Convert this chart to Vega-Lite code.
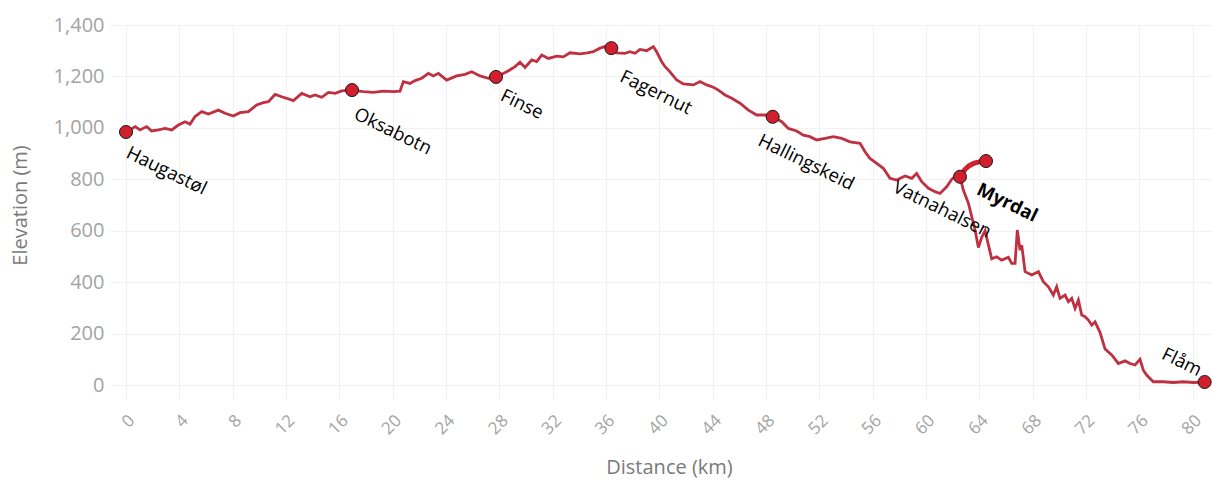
{
  "$schema": "https://vega.github.io/schema/vega-lite/v6.json",
  "width": 1102,
  "height": 375,
  "autosize": "none",
  "padding": {"left": 110, "top": 25, "right": 0, "bottom": 81},
  "background": "white",
  "config": {
    "view": {"stroke": null},
    "axis": {
      "grid": true,
      "gridColor": "#f1f1f1",
      "gridWidth": 1,
      "domain": false,
      "ticks": false,
      "labelFont": "Open Sans",
      "labelColor": "#a3a3a3",
      "titleFont": "Open Sans",
      "titleColor": "#7a7a7a",
      "titleFontWeight": "normal",
      "titleFontSize": 20
    }
  },
  "datasets": {
    "profile": [
      {"km": 0.0, "elev": 984}, {"km": 0.7, "elev": 1005}, {"km": 1.05, "elev": 992}, {"km": 1.55, "elev": 1005},
      {"km": 1.93, "elev": 988}, {"km": 2.43, "elev": 992}, {"km": 2.93, "elev": 998}, {"km": 3.43, "elev": 992},
      {"km": 3.93, "elev": 1011}, {"km": 4.43, "elev": 1024}, {"km": 4.8, "elev": 1014}, {"km": 5.18, "elev": 1044},
      {"km": 5.68, "elev": 1063}, {"km": 6.18, "elev": 1054}, {"km": 6.93, "elev": 1069}, {"km": 7.43, "elev": 1057},
      {"km": 8.05, "elev": 1046}, {"km": 8.55, "elev": 1059}, {"km": 9.18, "elev": 1063}, {"km": 9.8, "elev": 1089},
      {"km": 10.3, "elev": 1098}, {"km": 10.68, "elev": 1102}, {"km": 11.18, "elev": 1130}, {"km": 11.68, "elev": 1121},
      {"km": 12.05, "elev": 1115}, {"km": 12.55, "elev": 1106}, {"km": 13.18, "elev": 1134}, {"km": 13.8, "elev": 1121},
      {"km": 14.18, "elev": 1128}, {"km": 14.68, "elev": 1119}, {"km": 15.18, "elev": 1138}, {"km": 15.68, "elev": 1134},
      {"km": 16.18, "elev": 1144}, {"km": 16.95, "elev": 1147}, {"km": 17.8, "elev": 1141}, {"km": 18.55, "elev": 1138},
      {"km": 19.3, "elev": 1143}, {"km": 20.05, "elev": 1141}, {"km": 20.55, "elev": 1143}, {"km": 20.8, "elev": 1180},
      {"km": 21.3, "elev": 1173}, {"km": 21.68, "elev": 1184}, {"km": 22.18, "elev": 1193}, {"km": 22.68, "elev": 1212},
      {"km": 23.05, "elev": 1202}, {"km": 23.43, "elev": 1212}, {"km": 24.05, "elev": 1186}, {"km": 24.8, "elev": 1202},
      {"km": 25.43, "elev": 1208}, {"km": 25.93, "elev": 1218}, {"km": 26.55, "elev": 1202}, {"km": 27.18, "elev": 1193},
      {"km": 27.75, "elev": 1198}, {"km": 28.55, "elev": 1218}, {"km": 29.18, "elev": 1238}, {"km": 29.55, "elev": 1255},
      {"km": 29.93, "elev": 1235}, {"km": 30.43, "elev": 1264}, {"km": 30.8, "elev": 1258}, {"km": 31.18, "elev": 1283},
      {"km": 31.68, "elev": 1270}, {"km": 32.3, "elev": 1279}, {"km": 32.8, "elev": 1276}, {"km": 33.3, "elev": 1292},
      {"km": 34.05, "elev": 1288}, {"km": 34.6, "elev": 1292}, {"km": 35.05, "elev": 1296}, {"km": 35.55, "elev": 1310},
      {"km": 36.05, "elev": 1318}, {"km": 36.4, "elev": 1310}, {"km": 36.8, "elev": 1292}, {"km": 37.43, "elev": 1290},
      {"km": 37.8, "elev": 1296}, {"km": 38.18, "elev": 1290}, {"km": 38.55, "elev": 1305}, {"km": 39.05, "elev": 1300},
      {"km": 39.55, "elev": 1316}, {"km": 39.8, "elev": 1296}, {"km": 40.18, "elev": 1257}, {"km": 40.43, "elev": 1238},
      {"km": 40.8, "elev": 1218}, {"km": 41.3, "elev": 1186}, {"km": 41.8, "elev": 1171}, {"km": 42.55, "elev": 1167},
      {"km": 43.05, "elev": 1180}, {"km": 43.55, "elev": 1167}, {"km": 44.05, "elev": 1158}, {"km": 44.43, "elev": 1147},
      {"km": 44.93, "elev": 1128}, {"km": 45.43, "elev": 1115}, {"km": 46.05, "elev": 1096}, {"km": 46.68, "elev": 1069},
      {"km": 47.3, "elev": 1050}, {"km": 47.93, "elev": 1050}, {"km": 48.5, "elev": 1043}, {"km": 49.18, "elev": 1024},
      {"km": 49.68, "elev": 998}, {"km": 50.3, "elev": 988}, {"km": 50.8, "elev": 972}, {"km": 51.3, "elev": 966},
      {"km": 51.8, "elev": 953}, {"km": 52.43, "elev": 959}, {"km": 53.05, "elev": 966}, {"km": 53.68, "elev": 959},
      {"km": 54.3, "elev": 946}, {"km": 55.05, "elev": 940}, {"km": 55.43, "elev": 907}, {"km": 55.8, "elev": 881},
      {"km": 56.3, "elev": 862}, {"km": 56.8, "elev": 843}, {"km": 57.3, "elev": 804}, {"km": 57.8, "elev": 797},
      {"km": 58.43, "elev": 813}, {"km": 58.93, "elev": 804}, {"km": 59.3, "elev": 823}, {"km": 59.68, "elev": 791},
      {"km": 60.18, "elev": 765}, {"km": 60.68, "elev": 752}, {"km": 61.05, "elev": 745}, {"km": 61.55, "elev": 771},
      {"km": 61.93, "elev": 800}, {"km": 62.3, "elev": 817}, {"km": 62.55, "elev": 810}, {"km": 62.8, "elev": 758},
      {"km": 63.18, "elev": 707}, {"km": 63.43, "elev": 655}, {"km": 63.68, "elev": 603}, {"km": 63.93, "elev": 535},
      {"km": 64.18, "elev": 575}, {"km": 64.43, "elev": 600}, {"km": 64.68, "elev": 545}, {"km": 64.93, "elev": 491},
      {"km": 65.3, "elev": 499}, {"km": 65.68, "elev": 486}, {"km": 66.18, "elev": 497}, {"km": 66.43, "elev": 473},
      {"km": 66.68, "elev": 473}, {"km": 66.85, "elev": 603}, {"km": 67.05, "elev": 525}, {"km": 67.18, "elev": 544},
      {"km": 67.43, "elev": 441}, {"km": 67.93, "elev": 428}, {"km": 68.43, "elev": 441}, {"km": 68.8, "elev": 402},
      {"km": 69.18, "elev": 382}, {"km": 69.55, "elev": 350}, {"km": 69.8, "elev": 382}, {"km": 70.05, "elev": 337},
      {"km": 70.43, "elev": 350}, {"km": 70.68, "elev": 324}, {"km": 70.93, "elev": 337}, {"km": 71.18, "elev": 298},
      {"km": 71.43, "elev": 331}, {"km": 71.68, "elev": 272}, {"km": 71.93, "elev": 266}, {"km": 72.18, "elev": 253},
      {"km": 72.43, "elev": 233}, {"km": 72.68, "elev": 246}, {"km": 73.05, "elev": 205}, {"km": 73.43, "elev": 140},
      {"km": 73.93, "elev": 117}, {"km": 74.43, "elev": 84}, {"km": 74.93, "elev": 94}, {"km": 75.3, "elev": 84},
      {"km": 75.68, "elev": 78}, {"km": 76.05, "elev": 100}, {"km": 76.3, "elev": 58}, {"km": 76.55, "elev": 39},
      {"km": 76.8, "elev": 26}, {"km": 77.05, "elev": 13}, {"km": 77.8, "elev": 13}, {"km": 78.55, "elev": 10},
      {"km": 79.3, "elev": 13}, {"km": 80.05, "elev": 10}, {"km": 80.9, "elev": 12}
    ],
    "link": [
      {"km": 62.55, "elev": 810}, {"km": 62.95, "elev": 840}, {"km": 63.5, "elev": 860}, {"km": 64.5, "elev": 871}
    ],
    "stations": [
      {"name": "Haugastøl", "km": 0.0, "elev": 984},
      {"name": "Oksabotn", "km": 16.95, "elev": 1147},
      {"name": "Finse", "km": 27.75, "elev": 1198},
      {"name": "Fagernut", "km": 36.4, "elev": 1310},
      {"name": "Hallingskeid", "km": 48.5, "elev": 1043},
      {"name": "Vatnahalsen", "km": 62.55, "elev": 810},
      {"name": "Myrdal", "km": 64.5, "elev": 871},
      {"name": "Flåm", "km": 80.9, "elev": 12}
    ]
  },
  "encoding": {
    "x": {
      "field": "km", "type": "quantitative",
      "scale": {"domain": [-1.2, 81.45], "nice": false, "zero": false},
      "axis": {
        "title": "Distance (km)",
        "values": [0, 4, 8, 12, 16, 20, 24, 28, 32, 36, 40, 44, 48, 52, 56, 60, 64, 68, 72, 76, 80],
        "labelAngle": -45,
        "labelFontSize": 17,
        "labelPadding": 12,
        "titleY": 67,
        "titleBaseline": "middle",
        "titleX": 559
      }
    },
    "y": {
      "field": "elev", "type": "quantitative",
      "scale": {"domain": [-58, 1400], "nice": false, "zero": false},
      "axis": {
        "title": "Elevation (m)",
        "values": [0, 200, 400, 600, 800, 1000, 1200, 1400],
        "format": ",.0f",
        "labelFontSize": 20,
        "labelPadding": 6,
        "titleX": -90,
        "titleY": 180,
        "titleAlign": "center",
        "titleBaseline": "middle"
      }
    }
  },
  "layer": [
    {
      "data": {"name": "profile"},
      "mark": {"type": "line", "color": "#bf3040", "strokeWidth": 2.8}
    },
    {
      "data": {"name": "link"},
      "mark": {"type": "line", "color": "#d2202e", "strokeWidth": 5, "interpolate": "monotone", "strokeCap": "round"}
    },
    {
      "data": {"name": "stations"},
      "mark": {"type": "point", "filled": true, "fill": "#d21f2d", "stroke": "#1a1a1a", "strokeWidth": 1, "size": 170, "opacity": 1, "shape": "circle"}
    },
    {
      "data": {"name": "stations"},
      "transform": [{"filter": "datum.name === 'Haugastøl'"}],
      "mark": {"type": "text", "angle": 26, "align": "left", "baseline": "top", "dx": 10, "dy": 8, "font": "Open Sans", "fontSize": 18.5, "color": "#000000"},
      "encoding": {"text": {"field": "name"}}
    },
    {
      "data": {"name": "stations"},
      "transform": [{"filter": "datum.name === 'Oksabotn'"}],
      "mark": {"type": "text", "angle": 26, "align": "left", "baseline": "top", "dx": 13, "dy": 10, "font": "Open Sans", "fontSize": 18.5, "color": "#000000"},
      "encoding": {"text": {"field": "name"}}
    },
    {
      "data": {"name": "stations"},
      "transform": [{"filter": "datum.name === 'Finse'"}],
      "mark": {"type": "text", "angle": 26, "align": "left", "baseline": "top", "dx": 13, "dy": 4, "font": "Open Sans", "fontSize": 18.5, "color": "#000000"},
      "encoding": {"text": {"field": "name"}}
    },
    {
      "data": {"name": "stations"},
      "transform": [{"filter": "datum.name === 'Fagernut'"}],
      "mark": {"type": "text", "angle": 26, "align": "left", "baseline": "top", "dx": 21, "dy": 11, "font": "Open Sans", "fontSize": 18.5, "color": "#000000"},
      "encoding": {"text": {"field": "name"}}
    },
    {
      "data": {"name": "stations"},
      "transform": [{"filter": "datum.name === 'Hallingskeid'"}],
      "mark": {"type": "text", "angle": 26, "align": "left", "baseline": "top", "dx": -2, "dy": 17, "font": "Open Sans", "fontSize": 18.5, "color": "#000000"},
      "encoding": {"text": {"field": "name"}}
    },
    {
      "data": {"name": "stations"},
      "transform": [{"filter": "datum.name === 'Vatnahalsen'"}],
      "mark": {"type": "text", "angle": 26, "align": "left", "baseline": "top", "dx": -55, "dy": 28, "font": "Open Sans", "fontSize": 18.5, "color": "#000000"},
      "encoding": {"text": {"field": "name"}}
    },
    {
      "data": {"name": "stations"},
      "transform": [{"filter": "datum.name === 'Myrdal'"}],
      "mark": {"type": "text", "angle": 26, "align": "left", "baseline": "top", "dx": 5, "dy": 19, "font": "Open Sans", "fontSize": 18.5, "fontWeight": "bold", "color": "#000000"},
      "encoding": {"text": {"field": "name"}}
    },
    {
      "data": {"name": "stations"},
      "transform": [{"filter": "datum.name === 'Flåm'"}],
      "mark": {"type": "text", "angle": 26, "align": "left", "baseline": "top", "dx": -50, "dy": -17, "font": "Open Sans", "fontSize": 18.5, "color": "#000000"},
      "encoding": {"text": {"field": "name"}}
    }
  ]
}
